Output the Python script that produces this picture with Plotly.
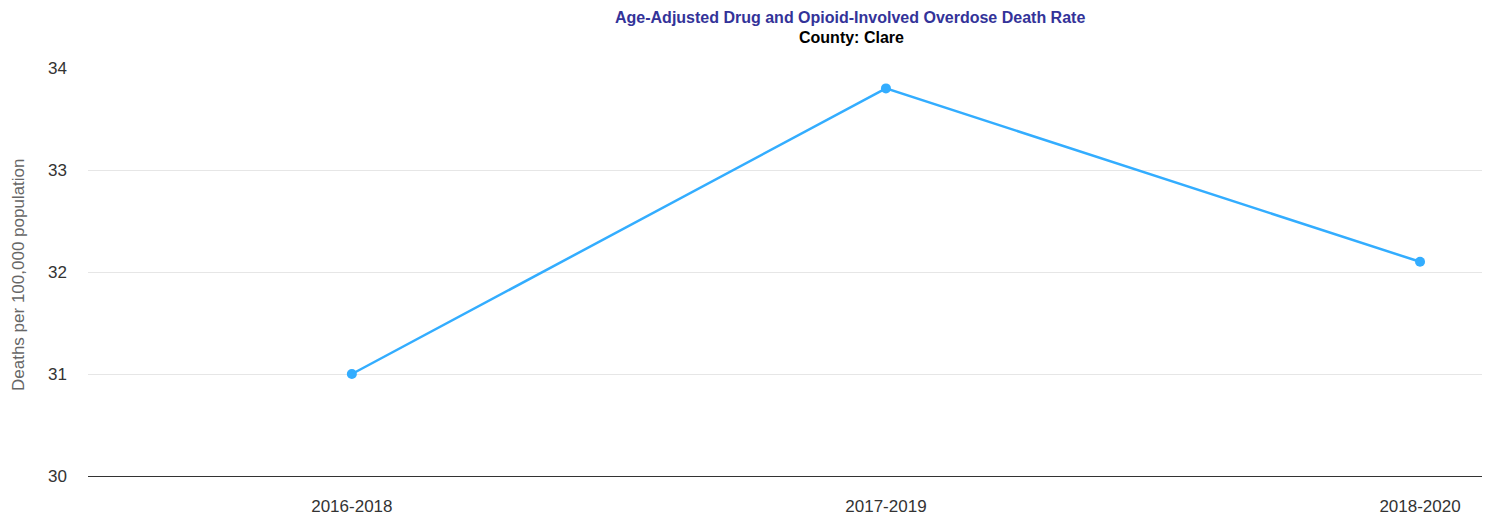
import plotly.graph_objects as go

categories = ["2016-2018", "2017-2019", "2018-2020"]
rates = [31.0, 33.8, 32.1]
y_ticks = [30, 31, 32, 33, 34]

fig = go.Figure()
fig.add_trace(go.Scatter(
    x=list(range(len(categories))), y=rates, mode="lines+markers",
    line=dict(color="#33adff", width=2.5),
    marker=dict(color="#33adff", size=10),
    hoverinfo="skip", showlegend=False,
))

# page has an 8px body margin; work in page coordinates
OFF = 8
W, H = 1486, 509
PL, PR, PT, PB = 88, 1482, 68, 476   # plot area in page px
L = PL - OFF
R = (W + OFF) - PR
T = PT - OFF
B = (H + OFF) - PB
pw = PR - PL
ph = PB - PT

def xp(px):
    return (px - PL) / pw

def yp(py):
    return (PB - py) / ph

FONT = "Liberation Sans, Arial, sans-serif"

fig.update_layout(
    width=W, height=H,
    margin=dict(l=L, r=R, t=T, b=B, autoexpand=False),
    paper_bgcolor="white", plot_bgcolor="white",
    font=dict(family=FONT, size=17, color="#333333"),
    xaxis=dict(
        tickmode="array", tickvals=list(range(len(categories))), ticktext=categories,
        range=[-0.494, 2.116], showgrid=False, zeroline=False,
        showline=True, linecolor="#333333", linewidth=1, ticks="",
        ticklabelstandoff=15, automargin=False,
        tickfont=dict(size=17, color="#333333"),
    ),
    yaxis=dict(
        range=[30, 34], tickvals=y_ticks, showgrid=True, gridcolor="#e6e6e6",
        zeroline=False, showline=False, ticks="", ticklabelstandoff=20,
        automargin=False,
        tickfont=dict(size=17, color="#333333"),
    ),
    annotations=[
        dict(text="<b>Age-Adjusted Drug and Opioid-Involved Overdose Death Rate</b>",
             xref="paper", yref="paper", x=xp(850), y=yp(17),
             xanchor="center", yanchor="middle", showarrow=False,
             font=dict(size=16, color="#333399", family=FONT)),
        dict(text="<b>County: Clare</b>",
             xref="paper", yref="paper", x=xp(851), y=yp(37),
             xanchor="center", yanchor="middle", showarrow=False,
             font=dict(size=16, color="#000000", family=FONT)),
        dict(text="Deaths per 100,000 population",
             xref="paper", yref="paper", x=xp(18), y=yp(275),
             xanchor="center", yanchor="middle", showarrow=False, textangle=-90,
             font=dict(size=17, color="#666666", family=FONT)),
    ],
)

fig.write_html("out.html")
